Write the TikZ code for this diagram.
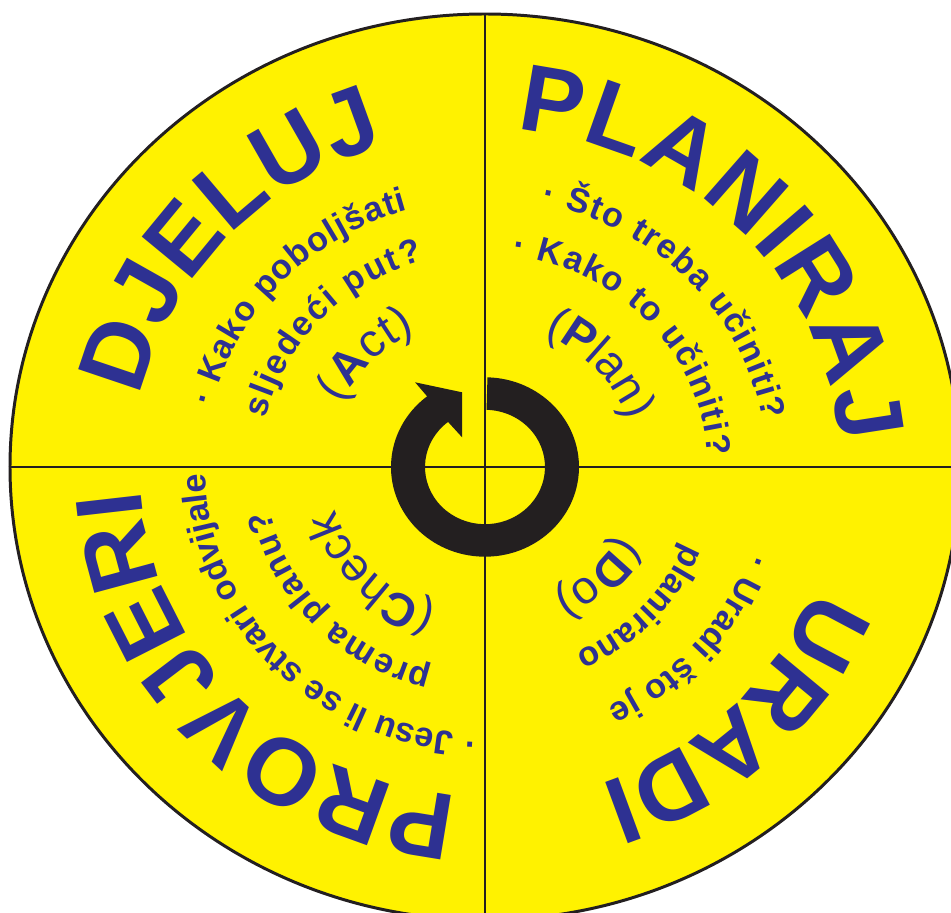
\documentclass[tikz,border=0pt]{standalone}
\usepackage{fontspec}
\setmainfont{Liberation Sans}
\usetikzlibrary{decorations.text, calc}
\definecolor{wheelyellow}{RGB}{255,242,0}
\definecolor{wheelblue}{RGB}{46,49,146}
\definecolor{wheelblack}{RGB}{35,31,32}
\newcommand\wheeltitle{\fontsize{54}{54}\selectfont\bfseries}
\newcommand\wheelsmall{\fontsize{19.5}{19.5}\selectfont\bfseries}
\newcommand\wheelparen{\fontsize{26.5}{26.5}\selectfont\mdseries}
\newcommand\wheelinitial{\fontsize{26.5}{26.5}\selectfont\bfseries}
\tikzset{
  wheel line/.style={
    draw=wheelblack,
    line width=1.7pt,        % quarter lines and rim
  },
  arc text/.style={
    decorate,
    decoration={text along path, text align=fit to path,
      text color=wheelblue, text={#1}},
  }
}

\begin{document}
\begin{tikzpicture}[x=0.02cm, y=0.02cm]
    % Frame (pixels of the reference, wheel centre at the origin)
    \useasboundingbox (-485,-446) rectangle (466,467);
    \coordinate (c) at (0,0);
    \def\rx{475}
    \def\ry{453}

    % Disc and quarter lines
    \fill[wheelyellow] (c) ellipse [x radius=\rx, y radius=\ry];
    \draw[wheel line] (c) ++(0,\ry) -- ++(0,-2*\ry);
    \draw[wheel line] (c) ++(-\rx,0) -- ++(2*\rx,0);

    % Round arrow in the middle
    \fill[wheelblack] (c) ++(88.5:94 and 89.7)
        arc[start angle=88.5, end angle=-232, x radius=94, y radius=89.7]
        -- ++(-12,14) -- ++(47,-10) -- ++(0,-45)
        -- ($(c)+(-232:60 and 57.2)$)
        arc[start angle=-232, end angle=88.5, x radius=60, y radius=57.2] -- cycle;
    \draw[wheel line] (c) ellipse [x radius=\rx, y radius=\ry];

    % Titles
    \path[arc text={|\wheeltitle|PLANIRAJ}] (c) ++(85:355 and 338.7)
        arc[start angle=85, end angle=4, x radius=355, y radius=338.7];
    \path[arc text={|\wheeltitle|DJELUJ}] (c) ++(168:352 and 335.8)
        arc[start angle=168, end angle=106.5, x radius=352, y radius=335.8];
    \path[arc text={|\wheeltitle|PROVJERI}] (c) ++(-94.5:345 and 329.1)
        arc[start angle=-94.5, end angle=-175.5, x radius=345, y radius=329.1];
    \path[arc text={|\wheeltitle|URADI}] (c) ++(-21:352 and 335.8)
        arc[start angle=-21, end angle=-69, x radius=352, y radius=335.8];

    % Plan
    \path[arc text={|\wheelsmall|· Što treba učiniti?}] (c) ++(78.5:282 and 269)
        arc[start angle=78.5, end angle=10, x radius=282, y radius=269];
    \path[arc text={|\wheelsmall|· Kako to učiniti?}] (c) ++(83:223 and 212.7)
        arc[start angle=83, end angle=3, x radius=223, y radius=212.7];
    \path[arc text={|\wheelparen|(|\wheelinitial|P|\wheelparen|lan)}] (c) ++(67:151 and 144)
        arc[start angle=67, end angle=20, x radius=151, y radius=144];

    % Do
    \path[arc text={|\wheelsmall|· Uradi što je}] (c) ++(-19:280 and 267.1)
        arc[start angle=-19, end angle=-64, x radius=280, y radius=267.1];
    \path[arc text={|\wheelsmall|planirano}] (c) ++(-22:215 and 205.1)
        arc[start angle=-22, end angle=-65, x radius=215, y radius=205.1];
    \path[arc text={|\wheelparen|(|\wheelinitial|D|\wheelparen|o)}] (c) ++(-28:152 and 145)
        arc[start angle=-28, end angle=-60, x radius=152, y radius=145];

    % Check
    \path[arc text={|\wheelsmall|· Jesu li se stvari odvijale}] (c) ++(-92:280 and 267.1)
        arc[start angle=-92, end angle=-178, x radius=280, y radius=267.1];
    \path[arc text={|\wheelsmall|prema planu?}] (c) ++(-104:220 and 209.9)
        arc[start angle=-104, end angle=-168, x radius=220, y radius=209.9];
    \path[arc text={|\wheelparen|(|\wheelinitial|C|\wheelparen|heck)}] (c) ++(-108:156 and 148.8)
        arc[start angle=-108, end angle=-164, x radius=156, y radius=148.8];

    % Act
    \path[arc text={|\wheelsmall|· Kako poboljšati}] (c) ++(167:280 and 267.1)
        arc[start angle=167, end angle=106, x radius=280, y radius=267.1];
    \path[arc text={|\wheelsmall|sljedeći put?}] (c) ++(167:225 and 214.7)
        arc[start angle=167, end angle=106, x radius=225, y radius=214.7];
    \path[arc text={|\wheelparen|(|\wheelinitial|A|\wheelparen|ct)}] (c) ++(155:158 and 150.7)
        arc[start angle=155, end angle=116, x radius=158, y radius=150.7];
\end{tikzpicture}
\end{document}
